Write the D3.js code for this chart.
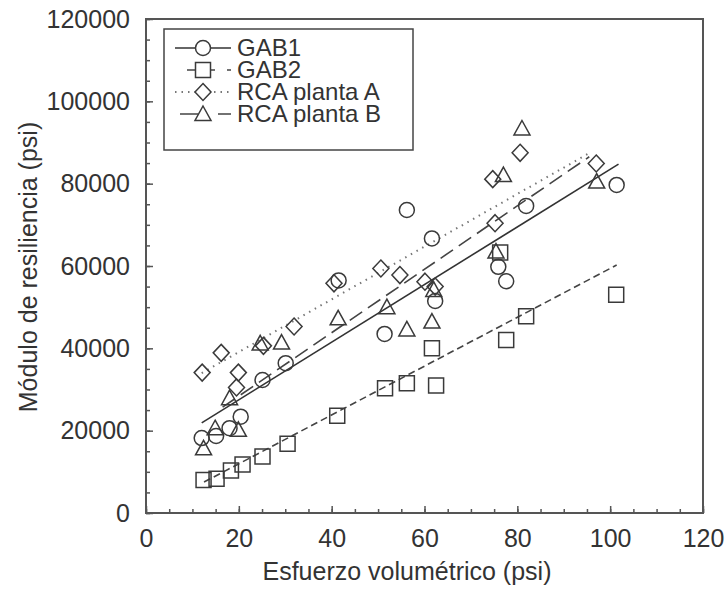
<!DOCTYPE html>
<html>
<head>
<meta charset="utf-8">
<script src="https://cdn.jsdelivr.net/npm/d3@7"></script>
<style>
  body { margin: 0; background: #fff; }
  text { font-family: "Liberation Sans", Arial, sans-serif; fill: #333; }
</style>
</head>
<body>
<svg id="chart" width="727" height="589"></svg>
<script>
// series names, in legend order
const seriesNames = ["GAB1", "GAB2", "RCA planta A", "RCA planta B"];

// points: [esfuerzo volumetrico, modulo]
const gab1 = [[12, 18200], [15.1, 18700], [18, 20600], [20.4, 23400], [25.1, 32300], [30.1, 36400],
  [41.5, 56500], [51.4, 43500], [56.2, 73600], [61.6, 66700], [62.3, 51500], [75.9, 59800],
  [77.6, 56300], [81.9, 74600], [101.4, 79700]];
const gab2 = [[12.4, 8000], [15.2, 8300], [18.3, 10300], [20.8, 11800], [25.1, 13700], [30.5, 16800],
  [41.2, 23600], [51.5, 30300], [56.2, 31500], [62.5, 31000], [61.6, 40000], [76.3, 63300],
  [77.6, 42000], [81.9, 47800], [101.3, 53000]];
const rcaA = [[12.1, 34100], [16.2, 38900], [19.9, 34100], [19.5, 30500], [25.3, 40600], [31.9, 45300],
  [40.5, 55800], [50.6, 59400], [54.7, 57800], [60.1, 56200], [62.3, 55000], [75.2, 70400],
  [74.7, 81100], [80.6, 87500], [97, 84900]];
const rcaB = [[12.4, 15700], [14.9, 20600], [19.9, 20200], [18, 27900], [24.6, 41200], [29.2, 41400],
  [41.4, 47300], [51.9, 50000], [56.2, 44600], [61.6, 46500], [62, 54200], [75.4, 63500],
  [77, 82100], [81, 93400], [97.1, 80500]];

// fitted lines: intercept, slope, x from, x to
const fitIntercept = [13500, 100, 26300, 13000];
const fitSlope = [700, 593, 640, 770];
const fitFrom = [12, 12.5, 12, 16.5];
const fitTo = [101.8, 101.4, 95.5, 95.5];

const xTicks = [0, 20, 40, 60, 80, 100, 120];
const yTicks = [0, 20000, 40000, 60000, 80000, 100000, 120000];

const allPoints = [gab1, gab2, rcaA, rcaB];

const svg = d3.select("#chart");
const plotLeft = 146, plotRight = 703, plotTop = 19, plotBottom = 513;

const x = d3.scaleLinear().domain([0, 120]).range([plotLeft, plotRight]);
const y = d3.scaleLinear().domain([0, 120000]).range([plotBottom, plotTop]);

const ink = "#3a3a3a";

// minor ticks (every 5 / 5000)
svg.append("g")
  .attr("transform", `translate(${plotLeft},0)`)
  .call(d3.axisLeft(y).tickValues(d3.range(0, 120001, 5000)).tickSize(-4).tickFormat(""))
  .call(g => g.select(".domain").remove())
  .selectAll("line").attr("stroke", "#555").attr("stroke-width", 1.5);
svg.append("g")
  .attr("transform", `translate(0,${plotBottom})`)
  .call(d3.axisBottom(x).tickValues(d3.range(0, 121, 5)).tickSize(-4).tickFormat(""))
  .call(g => g.select(".domain").remove())
  .selectAll("line").attr("stroke", "#555").attr("stroke-width", 1.5);

// major ticks + labels
const yAxis = svg.append("g")
  .attr("transform", `translate(${plotLeft},0)`)
  .call(d3.axisLeft(y).tickValues(yTicks).tickSize(-7).tickPadding(16).tickFormat(d3.format("d")));
const xAxis = svg.append("g")
  .attr("transform", `translate(0,${plotBottom})`)
  .call(d3.axisBottom(x).tickValues(xTicks).tickSize(-7).tickPadding(16).tickFormat(d3.format("d")));
[xAxis, yAxis].forEach(a => {
  a.attr("font-family", null).attr("font-size", null);
  a.select(".domain").remove();
  a.selectAll("line").attr("stroke", "#555").attr("stroke-width", 1.5);
  a.selectAll("text").attr("font-size", 25).attr("fill", "#333");
});

// frame
svg.append("rect")
  .attr("x", plotLeft).attr("y", plotTop)
  .attr("width", plotRight - plotLeft).attr("height", plotBottom - plotTop)
  .attr("fill", "none").attr("stroke", "#555").attr("stroke-width", 2);

// axis titles
svg.append("text")
  .attr("x", 407).attr("y", 580)
  .attr("text-anchor", "middle").attr("font-size", 25)
  .text("Esfuerzo volumétrico (psi)");
svg.append("text")
  .attr("transform", "translate(37,267) rotate(-90)")
  .attr("text-anchor", "middle").attr("font-size", 25)
  .text("Módulo de resiliencia (psi)");

// line styles and marker shapes per series
const dashes = [null, "7,4", "1.5,5", "15,7"];
const lineColors = ["#333", "#444", "#777", "#444"];

function marker(i) {
  if (i === 0) return d3.symbol().type(d3.symbolCircle).size(Math.PI * 7.5 * 7.5)();
  if (i === 1) return d3.symbol().type(d3.symbolSquare).size(15 * 15)();
  if (i === 2) return "M0,-8.5L8,0L0,8.5L-8,0Z";
  return "M0,-8L8,6.5L-8,6.5Z";
}

// regression lines
seriesNames.forEach((name, i) => {
  svg.append("line")
    .attr("x1", x(fitFrom[i])).attr("y1", y(fitIntercept[i] + fitSlope[i] * fitFrom[i]))
    .attr("x2", x(fitTo[i])).attr("y2", y(fitIntercept[i] + fitSlope[i] * fitTo[i]))
    .attr("stroke", lineColors[i])
    .attr("stroke-width", i === 2 ? 2 : 1.6)
    .attr("stroke-dasharray", dashes[i]);
});

// points
allPoints.forEach((pts, i) => {
  svg.append("g").selectAll("path")
    .data(pts)
    .join("path")
    .attr("d", marker(i))
    .attr("transform", d => `translate(${x(d[0])},${y(d[1])})`)
    .attr("fill", "none")
    .attr("stroke", ink)
    .attr("stroke-width", 1.5);
});

// legend
const legend = svg.append("g");
legend.append("rect")
  .attr("x", 164).attr("y", 29).attr("width", 249).attr("height", 121)
  .attr("fill", "#fff").attr("stroke", "#444").attr("stroke-width", 1.5);
seriesNames.forEach((name, i) => {
  const base = 56 + i * 22, cy = base - 8;
  legend.append("line")
    .attr("x1", 175).attr("x2", 231).attr("y1", cy).attr("y2", cy)
    .attr("stroke", lineColors[i]).attr("stroke-width", i === 2 ? 2 : 1.6)
    .attr("stroke-dasharray", i === 1 ? "8,12" : i === 3 ? "18,20" : dashes[i])
    .attr("stroke-dashoffset", i === 1 ? -12 : i === 3 ? -5 : 0);
  legend.append("path")
    .attr("d", marker(i))
    .attr("transform", `translate(203,${cy})`)
    .attr("fill", "#fff").attr("stroke", ink).attr("stroke-width", 1.5);
  legend.append("text")
    .attr("x", 237).attr("y", base).attr("font-size", 24)
    .text(name);
});
</script>
</body>
</html>
